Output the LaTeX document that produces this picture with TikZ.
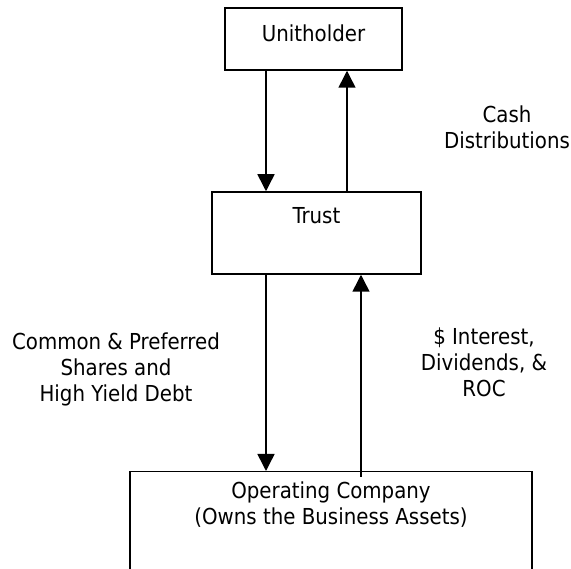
\documentclass[tikz,border=0pt]{standalone}
\usepackage{fontspec}
\setmainfont{DejaVu Sans Condensed}
\usetikzlibrary{arrows.meta}
\tikzset{
  boxshape/.style={draw, line width=1.5pt, inner sep=0pt},
  lbl/.style={inner sep=0pt, align=center, font=\fontsize{22}{26}\selectfont},
  flow/.style={line width=1.5pt, -{Triangle[length=17pt,width=17pt]}},
}
\begin{document}
\begin{tikzpicture}[x=1pt,y=-1pt]
\useasboundingbox (0,0) rectangle (571,569);
% boxes
\node[boxshape, minimum width=177pt, minimum height=62pt] (uh) at (313.5,39) {};
\node[boxshape, minimum width=209pt, minimum height=82pt] (tr) at (316.5,233) {};
\node[boxshape, minimum width=402pt, minimum height=140pt, anchor=north] (op) at (331,471) {};
% texts
\node[lbl] (uht) at (313.5,33) {Unitholder};
\node[lbl] (trt) at (316.5,216) {Trust};
\node[lbl] (opt) at (331,505) {Operating Company\\(Owns the Business Assets)};
\node[lbl] (cash) at (507,127) {Cash\\Distributions};
\node[lbl] (left) at (116,369) {Common \& Preferred\\Shares and\\High Yield Debt};
\node[lbl] (right) at (484,362) {\$ Interest,\\Dividends, \&\\ROC};
% connector columns
\coordinate (a) at (266,0);
\coordinate (b) at (347,0);
\coordinate (c) at (361,0);
\draw[flow] (uh.south -| a) -- (tr.north -| a);
\draw[flow] (tr.north -| b) -- (uh.south -| b);
\draw[flow] (tr.south -| a) -- (op.north -| a);
\draw[flow] (op.north -| c) ++(0,6) -- (tr.south -| c);
\end{tikzpicture}
\end{document}
